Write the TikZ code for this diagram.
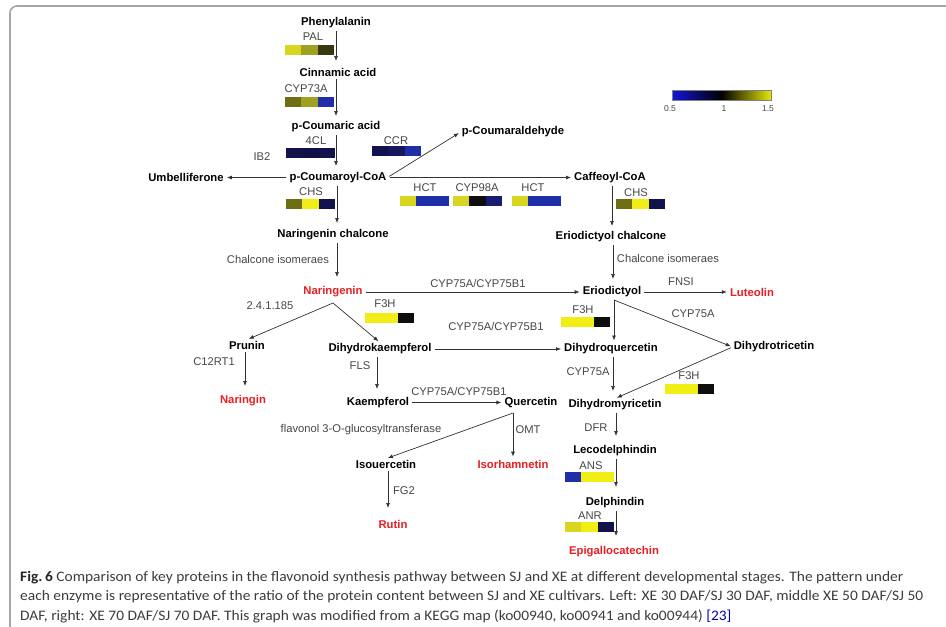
\documentclass[tikz,border=0pt]{standalone}
\usepackage{fontspec}
\setmainfont{Liberation Sans}
\newfontfamily\capfont{Carlito}
\usetikzlibrary{arrows.meta}
\definecolor{ylw}{RGB}{240,238,20}
\definecolor{ylwd}{RGB}{216,214,32}
\definecolor{oliv}{RGB}{110,110,20}
\definecolor{olivm}{RGB}{160,160,34}
\definecolor{olivd}{RGB}{58,56,18}
\definecolor{blu}{RGB}{32,46,168}
\definecolor{navy}{RGB}{18,18,76}
\definecolor{blk}{RGB}{14,14,14}
\definecolor{redt}{RGB}{232,30,36}
\definecolor{enzc}{RGB}{70,70,70}
\definecolor{linec}{RGB}{50,50,50}
\definecolor{capc}{RGB}{60,60,60}
\newcommand{\heatbar}[5]{%
  \fill[#3] (#1,#2) rectangle ++(16.4,10);
  \fill[#4] (#1+16.3,#2) rectangle ++(16.4,10);
  \fill[#5] (#1+32.6,#2) rectangle ++(16.4,10);}
\newcommand{\capline}[1]{\scalebox{1.065}[1]{#1}}
\begin{document}
\begin{tikzpicture}[x=1pt,y=-1pt,
  cmp/.style={font=\fontsize{11.3}{13}\selectfont\bfseries, text=black, inner sep=1pt},
  cmpr/.style={cmp, text=redt},
  enz/.style={font=\fontsize{11.2}{13}\selectfont, text=enzc, inner sep=1pt},
  arr/.style={draw=linec, line width=0.7pt, -{Latex[length=5pt,width=4pt]}, shorten >=2pt, shorten <=2pt},
  leg/.style={font=\fontsize{8.5}{10}\selectfont, text=enzc, inner sep=0pt},
  captxt/.style={font=\capfont\fontsize{14.5}{16}\selectfont, text=capc, anchor=west, inner sep=0pt}]
\useasboundingbox (0,0) rectangle (946,627);
% frame
\draw[black!35, line width=1.6pt, rounded corners=7pt] (10,640) -- (10,6) -- (960,6);

% compounds
\node[cmp] (phe) at (336,23) {Phenylalanin};
\node[cmp] (cin) at (338,72) {Cinnamic acid};
\node[cmp] (pca) at (336,127) {p-Coumaric acid};
\node[cmp] (pcc) at (338,177.5) {p-Coumaroyl-CoA};
\node[cmp] (umb) at (186,177.5) {Umbelliferone};
\node[cmp] (pcald) at (513,132) {p-Coumaraldehyde};
\node[cmp] (caf) at (610,177.5) {Caffeoyl-CoA};
\node[cmp] (nch) at (333,235) {Naringenin chalcone};
\node[cmp] (ech) at (611,237) {Eriodictyol chalcone};
\node[cmpr] (nar) at (333,292) {Naringenin};
\node[cmp] (eri) at (612,292) {Eriodictyol};
\node[cmpr] (lut) at (752,292) {Luteolin};
\node[cmp] (pru) at (247,345) {Prunin};
\node[cmp] (dhk) at (380,349) {Dihydrokaempferol};
\node[cmp] (dhq) at (611,349) {Dihydroquercetin};
\node[cmp] (dht) at (774,347) {Dihydrotricetin};
\node[cmpr] (ngi) at (243,401) {Naringin};
\node[cmp] (kae) at (378,402.5) {Kaempferol};
\node[cmp] (que) at (531,402.5) {Quercetin};
\node[cmp] (dhm) at (615,405) {Dihydromyricetin};
\node[cmp] (iso) at (386,464) {Isouercetin};
\node[cmpr] (isr) at (513,464) {Isorhamnetin};
\node[cmpr] (rut) at (393,524) {Rutin};
\node[cmp] (lec) at (615,451) {Lecodelphindin};
\node[cmp] (del) at (615,503) {Delphindin};
\node[cmpr] (epi) at (614,552) {Epigallocatechin};

% enzyme labels
\node[enz] (ePAL) at (313,37) {PAL};
\node[enz] (eC73) at (306,89) {CYP73A};
\node[enz] (e4CL) at (316,141) {4CL};
\node[enz] (eCCR) at (396,141) {CCR};
\node[enz] (eIB2) at (262,157) {IB2};
\node[enz] (eCHS1) at (311,192) {CHS};
\node[enz] (eHCT1) at (425,188) {HCT};
\node[enz] (eC98) at (477,188) {CYP98A};
\node[enz] (eHCT2) at (533,188) {HCT};
\node[enz] (eCHS2) at (636,193) {CHS};
\node[enz] (eCI1) at (278,259) {Chalcone isomeraes};
\node[enz] (eCI2) at (668,258) {Chalcone isomeraes};
\node[enz] (eC75a) at (478,283) {CYP75A/CYP75B1};
\node[enz] (eFNS) at (681,282) {FNSI};
\node[enz] (e241) at (270,306) {2.4.1.185};
\node[enz] (eF3H1) at (385,304) {F3H};
\node[enz] (eF3H2) at (583,310) {F3H};
\node[enz] (eC75b) at (496,326) {CYP75A/CYP75B1};
\node[enz] (eC75c) at (693,314) {CYP75A};
\node[enz] (eC12) at (214,362) {C12RT1};
\node[enz] (eFLS) at (360,366) {FLS};
\node[enz] (eC75d) at (588,372) {CYP75A};
\node[enz] (eF3H3) at (689,376) {F3H};
\node[enz] (eC75e) at (459,391) {CYP75A/CYP75B1};
\node[enz] (eFGT) at (361,430) {flavonol 3-O-glucosyltransferase};
\node[enz] (eOMT) at (528,430) {OMT};
\node[enz] (eDFR) at (596,428) {DFR};
\node[enz] (eANS) at (591,466) {ANS};
\node[enz] (eFG2) at (404,491) {FG2};
\node[enz] (eANR) at (590,516) {ANR};

% heat bars
\heatbar{285}{44.5}{ylwd}{olivm}{olivd}
\heatbar{285}{97}{oliv}{olivm}{blu}
\heatbar{286}{148}{navy}{navy!95!black}{navy}
\heatbar{372}{146}{navy}{navy!80!blu}{blu}
\heatbar{286}{199}{oliv}{ylw}{navy}
\heatbar{400}{196}{ylwd}{blu}{blu}
\heatbar{453}{196}{ylwd}{blk}{navy!60!blu}
\heatbar{512}{196}{ylwd}{blu}{blu}
\heatbar{616}{199}{oliv}{ylw}{navy}
\heatbar{365}{313}{ylw}{ylw}{blk}
\heatbar{561}{317}{ylw}{ylw}{blk}
\heatbar{665}{384}{ylw}{ylw}{blk}
\heatbar{565}{472}{blu}{ylw}{ylw}
\heatbar{565}{522}{ylwd}{ylw}{navy}

% legend
\shade[left color={rgb,255:red,20;green,20;blue,220}, right color={rgb,255:red,230;green,230;blue,10}, middle color=black]
  (672,90) rectangle (771,100);
\draw[black!50, line width=0.4pt] (672,90) rectangle (771,100);
\node[leg] (l05) at (670,109) {0.5};
\node[leg] (l1) at (724,109) {1};
\node[leg] (l15) at (768,109) {1.5};

% coordinates for branch points
\coordinate (nb) at (333,303);
\coordinate (e1) at (614,300);
\coordinate (qb) at (513,413);

% connectors
\draw[arr] (phe.south -| 336,0) -- (336,63);
\draw[arr] (cin.south -| 336,0) -- (336,118);
\draw[arr] (pca.south -| 336,0) -- (336,168);
\draw[arr] (pcc.south -| 337,0) -- (337,225);
\draw[arr] (nch.south -| 337,0) -- (337,279);
\draw[arr] (pcc.west) -- (umb.east);
\draw[arr] (pcc.east) -- (pcald.west);
\draw[arr] (pcc.east) -- (caf.west);
\draw[arr] (caf.south -| 612,0) -- (612,228);
\draw[arr] (ech.south -| 613,0) -- (613,281);
\draw[arr] (nar.east) -- (eri.west);
\draw[arr] (eri.east) -- (lut.west);
\draw[arr, shorten <=0pt] (nb) -- (pru.north);
\draw[arr, shorten <=0pt] (nb) -- (dhk.north);
\draw[arr] (pru.south -| 245,0) -- (245,388);
\draw[arr] (dhk.south -| 377,0) -- (377,391);
\draw[arr] (dhk.east) -- (dhq.west);
\draw[arr] (kae.east) -- (que.west);
\draw[arr, shorten <=0pt] (e1) -- (e1 |- dhq.north);
\draw[arr, shorten <=0pt] (e1) -- (dht.west);
\draw[arr] (dhq.south -| 613,0) -- (613,393);
\draw[arr] (dht.west) -- (dhm.north);
\draw[arr, shorten <=0pt] (qb) -- (iso.north);
\draw[arr, shorten <=0pt] (qb) -- (qb |- isr.north);
\draw[arr] (iso.south -| 388,0) -- (388,510);
\draw[arr] (dhm.south -| 616,0) -- (616,438);
\draw[arr] (lec.south -| 616,0) -- (616,489);
\draw[arr] (del.south -| 616,0) -- (616,538);

% caption
\node[captxt] (c1) at (20,578) {\capline{\textbf{\color{black!85}Fig.\,6} Comparison of key proteins in the flavonoid synthesis pathway between SJ and XE at different developmental stages. The pattern under}};
\node[captxt] (c2) at (20,597) {\capline{each enzyme is representative of the ratio of the protein content between SJ and XE cultivars. Left: XE 30 DAF/SJ 30 DAF, middle XE 50 DAF/SJ 50}};
\node[captxt] (c3) at (20,616) {\capline{DAF, right: XE 70 DAF/SJ 70 DAF. This graph was modified from a KEGG map (ko00940, ko00941 and ko00944) {\color{blue!70!black}[23]}}};
\end{tikzpicture}
\end{document}
